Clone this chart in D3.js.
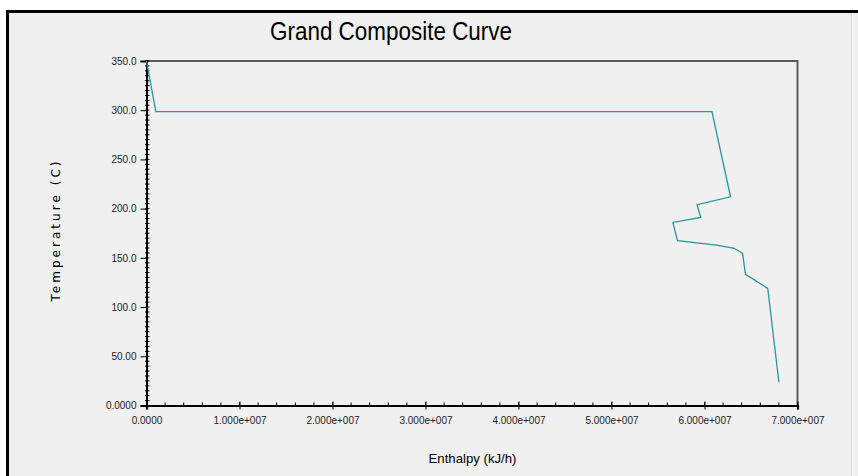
<!DOCTYPE html>
<html>
<head>
<meta charset="utf-8">
<script src="https://cdn.jsdelivr.net/npm/d3@7"></script>
<style>
  html, body { margin: 0; padding: 0; background: #fff; }
  svg { display: block; }
</style>
</head>
<body>
<svg id="chart" width="858" height="476"></svg>
<script>
// Grand composite curve points: enthalpy (kJ/h), temperature (C)
const enthalpy = [0, 1.0e6, 6.08e7, 6.28e7, 5.92e7, 5.96e7, 5.66e7, 5.71e7, 5.94e7, 6.13e7, 6.32e7, 6.41e7, 6.44e7, 6.68e7, 6.80e7];
const temperature = [350, 298.5, 298.5, 212, 204, 191, 186, 167.5, 165, 163, 159.7, 154.6, 133.3, 119, 23.6];

const xTickValues = [0, 1e7, 2e7, 3e7, 4e7, 5e7, 6e7, 7e7];
const xTickLabels = ["0.0000", "1.000e+007", "2.000e+007", "3.000e+007", "4.000e+007", "5.000e+007", "6.000e+007", "7.000e+007"];
const yTickValues = [0, 50, 100, 150, 200, 250, 300, 350];
const yTickLabels = ["0.0000", "50.00", "100.0", "150.0", "200.0", "250.0", "300.0", "350.0"];

const W = 858, H = 476;
const plot = { left: 146.5, right: 797.5, top: 61, bottom: 405.5 };

const svg = d3.select('#chart');
const font = "'Liberation Sans', Arial, sans-serif";

// panel background + frame
svg.append('rect').attr('x', 6).attr('y', 10).attr('width', W - 6).attr('height', H - 10).attr('fill', '#f0f0f0');
svg.append('rect').attr('x', 6).attr('y', 10).attr('width', W - 6).attr('height', 3).attr('fill', '#000');
svg.append('rect').attr('x', 6).attr('y', 10).attr('width', 3).attr('height', H - 10).attr('fill', '#000');
svg.append('line').attr('x1', 851.5).attr('x2', 851.5).attr('y1', 13).attr('y2', H)
  .attr('stroke', '#d6d6d6').attr('stroke-width', 1);
svg.append('line').attr('x1', 852.5).attr('x2', 852.5).attr('y1', 13).attr('y2', H)
  .attr('stroke', '#fafafa').attr('stroke-width', 1);

const x = d3.scaleLinear().domain([0, 7e7]).range([plot.left, plot.right]);
const y = d3.scaleLinear().domain([0, 350]).range([plot.bottom, plot.top]);

// top and right frame of plot
svg.append('path')
  .attr('d', `M${plot.left},${plot.top}H${plot.right}V${plot.bottom}`)
  .attr('fill', 'none').attr('stroke', '#5a5a5a').attr('stroke-width', 2);

// minor ticks
const xMinor = d3.range(0, 7e7 + 1, 2e6);
svg.append('g').selectAll('line').data(xMinor).join('line')
  .attr('x1', d => x(d)).attr('x2', d => x(d))
  .attr('y1', plot.bottom - 3).attr('y2', plot.bottom)
  .attr('stroke', '#000').attr('stroke-width', 1);
const yMinor = d3.range(0, 351, 5);
svg.append('g').selectAll('line').data(yMinor).join('line')
  .attr('x1', plot.left - 1.5).attr('x2', plot.left + 3)
  .attr('y1', d => y(d)).attr('y2', d => y(d))
  .attr('stroke', '#000').attr('stroke-width', 1);

// axes
const xAxis = svg.append('g')
  .attr('transform', `translate(0,${plot.bottom})`)
  .call(d3.axisBottom(x).tickValues(xTickValues)
    .tickFormat((d, i) => xTickLabels[i]).tickSize(4).tickPadding(7));
xAxis.select('.domain').attr('stroke', '#000').attr('stroke-width', 2.2);
xAxis.selectAll('.tick line').attr('y1', -4).attr('stroke', '#000');
xAxis.selectAll('text').attr('font-family', font).attr('font-size', 10).attr('fill', '#1c1c1c');

const yAxis = svg.append('g')
  .attr('transform', `translate(${plot.left},0)`)
  .call(d3.axisLeft(y).tickValues(yTickValues)
    .tickFormat((d, i) => yTickLabels[i]).tickSize(6).tickPadding(4));
yAxis.select('.domain').attr('stroke', '#000').attr('stroke-width', 2);
yAxis.selectAll('.tick line').attr('stroke', '#000');
yAxis.selectAll('text').attr('font-family', font).attr('font-size', 10).attr('fill', '#1c1c1c');

// curve
const pts = enthalpy.map((h, i) => [h, temperature[i]]);
svg.append('path')
  .datum(pts)
  .attr('fill', 'none')
  .attr('stroke', '#259898')
  .attr('stroke-width', 1.3)
  .attr('d', d3.line().x(d => x(d[0])).y(d => y(d[1])));

// titles
svg.append('text')
  .attr('x', 391).attr('y', 40)
  .attr('text-anchor', 'middle')
  .attr('font-family', font).attr('font-size', 25).attr('fill', '#000')
  .attr('textLength', 242).attr('lengthAdjust', 'spacingAndGlyphs')
  .text('Grand Composite Curve');

svg.append('text')
  .attr('x', 472.5).attr('y', 463)
  .attr('text-anchor', 'middle')
  .attr('font-family', font).attr('font-size', 13.2).attr('fill', '#000')
  .text('Enthalpy (kJ/h)');

svg.append('text')
  .attr('transform', 'translate(60,231.5) rotate(-90)')
  .attr('text-anchor', 'middle')
  .attr('font-family', "'DejaVu Sans', sans-serif").attr('font-size', 12).attr('fill', '#000')
  .attr('textLength', 140).attr('lengthAdjust', 'spacing')
  .text('Temperature (C)');
</script>
</body>
</html>
